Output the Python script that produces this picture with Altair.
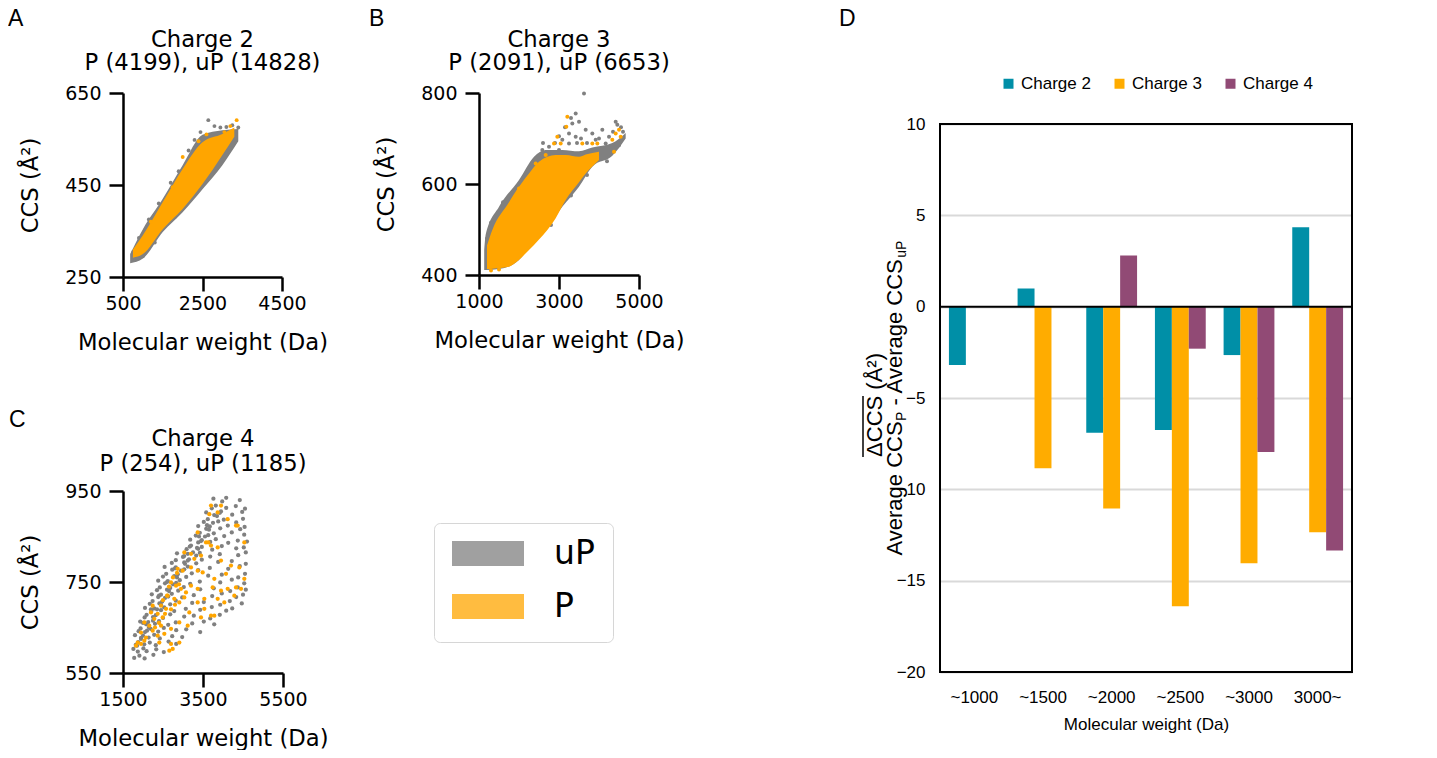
import altair as alt
import pandas as pd

FONT_A = "DejaVu Sans"
FONT_D = "Liberation Sans"
GRAY = "#808080"
ORANGE = "#FFA500"

# ---------------- Panel A : charge 2 ----------------
a_up_band_mw = [680, 1000, 1500, 2000, 2500, 3000, 3400]
a_up_band_lo = [280, 290, 348, 391, 441, 493, 545]
a_up_band_hi = [300, 354, 420, 493, 559, 569, 572]
a_p_band_mw = [750, 1000, 1500, 2000, 2500, 3000, 3300]
a_p_band_lo = [292, 300, 354, 398, 452, 515, 555]
a_p_band_hi = [310, 341, 413, 485, 543, 561, 575]
a_up_mw = [2646, 2800, 2950, 3100, 3250, 3400, 2450, 2300, 2150, 1900, 1700, 1400, 1150, 900, 760,
           2700, 2900, 3150, 3300, 2200, 1800, 1300, 1000]
a_up_ccs = [591, 578, 575, 576, 580, 575, 565, 548, 525, 480, 455, 410, 375, 335, 305,
            480, 500, 525, 548, 425, 380, 325, 295]
a_p_mw = [3360, 3200, 2002, 2600, 3050, 1750, 1200, 2400]
a_p_ccs = [591, 578, 511, 560, 565, 445, 370, 545]

# ---------------- Panel B : charge 3 ----------------
b_up_band_mw = [1130, 1170, 1500, 2000, 2375, 2667, 3083, 3500, 3833, 4333, 4667]
b_up_band_lo = [411, 411, 413, 433, 475, 500, 550, 594, 638, 662, 700]
b_up_band_hi = [455, 490, 550, 609, 660, 675, 675, 672, 680, 690, 712]
b_p_band_mw = [1200, 1333, 1750, 1833, 2250, 2500, 2917, 3167, 3500, 3667, 4000]
b_p_band_lo = [413, 414, 418, 422, 455, 478, 525, 565, 604, 623, 653]
b_p_band_hi = [465, 499, 560, 572, 623, 649, 664, 664, 660, 665, 671]
b_up_mw = [3625, 3417, 3500, 3333, 3250, 3083, 3250, 3417, 3667, 3833, 4083, 3917, 4167, 4417, 4458,
           4250, 4125, 3958, 3750, 2583, 2750, 3000, 3167, 3550, 3300, 3150, 3000, 2900, 4550, 4600,
           4350, 4000, 3700, 3450, 2600, 1200, 1300, 1600, 2100, 2300, 2200, 2800, 3300, 3700, 4200,
           4500]
b_up_ccs = [799, 755, 737, 733, 711, 697, 689, 704, 719, 711, 719, 697, 689, 737, 730,
            704, 675, 660, 671, 675, 682, 675, 660, 700, 745, 725, 705, 690, 725, 715,
            715, 700, 690, 690, 690, 480, 515, 560, 600, 630, 460, 510, 575, 620, 650,
            685]
b_p_mw = [3208, 3183, 2958, 2875, 3042, 3583, 3833, 3958, 4417, 4500, 4542, 4333, 4375, 2417, 2667,
          2792, 3417, 1300, 1500, 2000]
b_p_ccs = [748, 726, 704, 689, 689, 689, 689, 689, 711, 719, 704, 697, 671, 645, 664,
           653, 653, 410, 412, 590]

# ---------------- Panel C : charge 4 ----------------
c_up_mw = [1780, 1910, 2040, 2260,
           1760, 1870, 2010, 2090, 2330, 2520,
           1820, 1880, 2030, 2170, 2320, 2640, 2830,
           1800, 1950, 2000, 2140, 2280, 2420, 2730, 2980,
           1890, 1940, 2100, 2190, 2380, 2520, 2830, 3080, 3430,
           1930, 2080, 2130, 2300, 2400, 2630, 2820, 3230, 3520, 3780,
           2040, 2090, 2250, 2320, 2500, 2680, 3030, 3270, 3680, 3920,
           2050, 2210, 2280, 2450, 2530, 2780, 3070, 3430, 3720, 4080, 4230,
           2170, 2240, 2410, 2480, 2680, 2820, 3230, 3520, 3930, 4170, 4470,
           2220, 2380, 2450, 2630, 2720, 2980, 3270, 3730, 3970, 4330, 4500,
           2350, 2420, 2600, 2680, 2880, 3020, 3430, 3770, 4180, 4370, 4570,
           2380, 2550, 2620, 2830, 2920, 3180, 3420, 3930, 4220, 4530,
           2500, 2580, 2780, 2870, 3080, 3220, 3630, 3970, 4380, 4550,
           2540, 2730, 2820, 3030, 3120, 3380, 3670, 4130, 4420,
           2720, 2820, 3030, 3120, 3330, 3470, 3880, 4220, 4570,
           2850, 3030, 3120, 3330, 3420, 3680, 3920, 4380, 4570,
           3090, 3170, 3380, 3470, 3730, 3970, 4330, 4520,
           3180, 3380, 3470, 3680, 3820, 4130, 4370, 4600,
           3320, 3420, 3630, 3770, 4030, 4220, 4530,
           3380, 3580, 3670, 3930, 4120, 4430, 4540,
           3520, 3620, 3880, 4020, 4330, 4500,
           3580, 3780, 3920, 4230, 4480,
           3720, 3820, 4080, 4320, 4550,
           3760, 3980, 4080, 4420,
           1850, 1950, 2050, 2150, 2250, 2350, 2450, 2550, 2650, 2750, 2850, 2950, 3050, 3150, 3250,
           3350, 3450, 3550, 3650, 3750, 3850, 3950, 2000, 2200, 2400, 2600, 2800, 3000, 3200, 3400,
           3600]
c_up_ccs = [583, 588, 582, 590,
            603, 597, 604, 598, 602, 596,
            612, 618, 613, 617, 611, 619, 614,
            633, 627, 632, 628, 634, 626, 631, 629,
            642, 648, 643, 647, 641, 649, 644, 646, 640,
            663, 657, 662, 658, 664, 656, 661, 659, 663, 657,
            672, 678, 673, 677, 671, 679, 674, 676, 670, 678,
            693, 687, 692, 688, 694, 686, 691, 689, 695, 687, 692,
            702, 708, 703, 707, 701, 709, 704, 706, 700, 708, 703,
            723, 717, 722, 718, 724, 716, 721, 719, 725, 717, 722,
            732, 738, 733, 737, 731, 739, 734, 736, 730, 738, 733,
            753, 747, 752, 748, 754, 746, 751, 749, 755, 747,
            762, 768, 763, 767, 761, 769, 764, 766, 760, 768,
            783, 777, 782, 778, 784, 776, 781, 779, 785,
            792, 798, 793, 797, 791, 799, 794, 796, 790,
            813, 807, 812, 808, 814, 806, 811, 809, 815,
            822, 828, 823, 827, 821, 829, 824, 826,
            843, 837, 842, 838, 844, 836, 841, 839,
            852, 858, 853, 857, 851, 859, 854,
            873, 867, 872, 868, 874, 866, 871,
            882, 888, 883, 887, 881, 889,
            903, 897, 902, 898, 904,
            912, 918, 913, 917, 911,
            933, 927, 935, 930,
            610, 625, 640, 650, 665, 690, 700, 715, 730, 745, 760, 775, 790, 800, 815,
            825, 840, 850, 865, 880, 895, 905, 660, 690, 720, 750, 780, 805, 830, 850,
            875]
c_p_mw = [3700, 3950, 3867, 3658, 4117, 4325, 4367, 3367, 3575, 3633, 3700, 3867, 4533, 3033, 3200,
          3283, 3450, 3950, 4200, 4408, 2867, 2992, 3200, 3367, 3492, 3783, 4075, 4533, 2700, 2825,
          2950, 3075, 3200, 3367, 3533, 3742, 3950, 4117, 4325, 4450, 4283, 2617, 2783, 2908, 3033,
          3367, 3533, 3867, 4033, 2450, 2575, 2367, 2492, 2283, 3158, 3450, 3700, 3783, 2033, 2158,
          2242, 2367, 2533, 2700, 2908, 1950, 2075, 1867, 1950, 1825, 2033, 2408, 2700, 2908, 2742,
          2658, 2450, 2200, 2242, 3117, 2600, 2650, 2750, 2800, 2500, 2550, 2400, 2300, 2850, 2900,
          2700]
c_p_ccs = [918, 918, 903, 899, 888, 874, 874, 859, 837, 837, 830, 826, 837, 815, 812,
           801, 808, 797, 786, 782, 779, 775, 782, 775, 771, 757, 768, 757, 749, 742,
           735, 727, 742, 735, 713, 738, 731, 735, 738, 735, 720, 720, 713, 705, 716,
           705, 691, 713, 705, 698, 691, 680, 672, 669, 683, 672, 676, 676, 661, 654,
           643, 632, 636, 647, 661, 639, 628, 617, 614, 610, 621, 617, 614, 617, 603,
           599, 654, 683, 698, 654, 720, 740, 760, 700, 710, 680, 660, 650, 770, 745,
           690]

# ---------------- Panel D ----------------
d_categories = ["~1000", "~1500", "~2000", "~2500", "~3000", "3000~"]
d_charges = ["Charge 2", "Charge 3", "Charge 4"]
d_colors = ["#008FA7", "#FFAC00", "#914A75"]
d_charge2 = [-3.2, 1.0, -6.9, -6.75, -2.65, 4.35]
d_charge3 = [None, -8.85, -11.05, -16.4, -14.05, -12.35]
d_charge4 = [None, None, 2.8, -2.3, -7.95, -13.35]

AXC = dict(domainColor="black", domainWidth=2.5, tickColor="black", tickWidth=2.5, tickSize=14,
           labelFont=FONT_A, labelFontSize=19, labelColor="black", format="d",
           titleFont=FONT_A, titleFontSize=22.7, titleFontWeight="normal", titleColor="black",
           grid=False, labelFlush=False, labelOverlap=False)

ONE = pd.DataFrame({"k": [0]})


def band(mw, lo, hi):
    return pd.DataFrame({"mw": mw, "lo": lo, "hi": hi})


def pts(mw, ccs, g):
    return pd.DataFrame({"mw": mw, "ccs": ccs, "group": [g] * len(mw)})


def label(text, x, y, font, size, align="left", baseline="top"):
    return alt.Chart(ONE).mark_text(text=text, font=font, fontSize=size, align=align,
                                    baseline=baseline, color="black").encode(
        x=alt.value(x), y=alt.value(y))


def scatter_panel(title_lines, title_y, letter, lxy, xdom, xticks, ydom, yticks, w, h,
                  up_band, p_band, up_pts, p_pts, legend, size):
    xs = alt.Scale(domain=xdom, nice=False, zero=False)
    ys = alt.Scale(domain=ydom, nice=False, zero=False)
    xax = alt.Axis(values=xticks, title="Molecular weight (Da)", labelPadding=3, titlePadding=18, **AXC)
    yax = alt.Axis(values=yticks, title="CCS (Å²)", labelPadding=8, titlePadding=22, **AXC)
    X = alt.X("mw:Q", scale=xs, axis=xax)
    col = alt.Color("group:N", scale=alt.Scale(domain=["uP", "P"], range=[GRAY, ORANGE]),
                    legend=legend)
    layers = []
    if up_band is not None:
        layers.append(alt.Chart(up_band).mark_area(color=GRAY, interpolate="monotone").encode(
            x=X, y=alt.Y("lo:Q", scale=ys, axis=yax), y2="hi:Q"))
    layers.append(alt.Chart(up_pts).mark_circle(size=size, opacity=1).encode(
        x=X, y=alt.Y("ccs:Q", scale=ys, axis=yax), color=col))
    if p_band is not None:
        layers.append(alt.Chart(p_band).mark_area(color=ORANGE, interpolate="monotone").encode(
            x=X, y=alt.Y("lo:Q", scale=ys, axis=yax), y2="hi:Q"))
    layers.append(alt.Chart(p_pts).mark_circle(size=size, opacity=1).encode(
        x=X, y=alt.Y("ccs:Q", scale=ys, axis=yax), color=col))
    layers.append(label(letter, lxy[0], lxy[1], FONT_D, 23))
    layers.append(label(title_lines[0], w / 2, title_y[0], FONT_A, 22.7, "center", "middle"))
    layers.append(label(title_lines[1], w / 2, title_y[1], FONT_A, 22.7, "center", "middle"))
    return alt.layer(*layers).properties(width=w, height=h)


chart_a = scatter_panel(["Charge 2", "P (4199), uP (14828)"], (-53, -30), "A", (-115, -85),
                        [500, 4500], [500, 2500, 4500], [250, 650], [250, 450, 650], 159, 184,
                        band(a_up_band_mw, a_up_band_lo, a_up_band_hi),
                        band(a_p_band_mw, a_p_band_lo, a_p_band_hi),
                        pts(a_up_mw, a_up_ccs, "uP"), pts(a_p_mw, a_p_ccs, "P"), None, 15)

legend_b = alt.Legend(orient="none", legendX=-45, legendY=430, title=None,
                      symbolType="M-1,-0.35H1V0.35H-1Z", symbolSize=5184, symbolOpacity=0.75,
                      symbolStrokeWidth=0, labelFont=FONT_A, labelFontSize=33, labelColor="black",
                      labelOffset=30, padding=18, strokeColor="#D6D6D6", cornerRadius=6,
                      clipHeight=25, rowPadding=19, direction="vertical")

chart_b = scatter_panel(["Charge 3", "P (2091), uP (6653)"], (-53, -30), "B", (-110, -85),
                        [1000, 5000], [1000, 3000, 5000], [400, 800], [400, 600, 800], 160, 182,
                        band(b_up_band_mw, b_up_band_lo, b_up_band_hi),
                        band(b_p_band_mw, b_p_band_lo, b_p_band_hi),
                        pts(b_up_mw, b_up_ccs, "uP"), pts(b_p_mw, b_p_ccs, "P"), legend_b, 16)

chart_c = scatter_panel(["Charge 4", "P (254), uP (1185)"], (-52, -27), "C", (-114, -82),
                        [1500, 5500], [1500, 3500, 5500], [550, 950], [550, 750, 950], 160, 182,
                        None, None,
                        pts(c_up_mw, c_up_ccs, "uP"), pts(c_p_mw, c_p_ccs, "P"), None, 18)

# ---------------- Panel D chart ----------------
rows = []
for i, cat in enumerate(d_categories):
    for name, arr in zip(d_charges, [d_charge2, d_charge3, d_charge4]):
        if arr[i] is not None:
            rows.append({"cat": cat, "charge": name, "val": arr[i]})
df_d = pd.DataFrame(rows)

DW = 412
TOP = 31          # plot frame starts this far below the panel origin
DH = 548
ys_d = alt.Scale(domain=[-20, 10], nice=False, zero=False, range=[TOP + DH, TOP])

bars = alt.Chart(df_d).mark_bar().encode(
    x=alt.X("cat:N", sort=d_categories,
            scale=alt.Scale(domain=d_categories, paddingInner=0.26, paddingOuter=0.13),
            axis=alt.Axis(title="Molecular weight (Da)", labelAngle=0, ticks=False, domain=False,
                          labelFont=FONT_D, labelFontSize=17, labelColor="black", labelPadding=17,
                          titleFont=FONT_D, titleFontSize=17, titleFontWeight="normal",
                          titleColor="black", titlePadding=11)),
    xOffset=alt.XOffset("charge:N", scale=alt.Scale(domain=d_charges, paddingInner=0, paddingOuter=0)),
    y=alt.Y("val:Q", scale=ys_d,
            axis=alt.Axis(values=[10, 5, 0, -5, -10, -15, -20], title=None, ticks=False, domain=False,
                          grid=True, gridColor="#D9D9D9", gridWidth=2, labelFont=FONT_D,
                          labelFontSize=17, labelColor="black", labelPadding=15)),
    color=alt.Color("charge:N", scale=alt.Scale(domain=d_charges, range=d_colors),
                    legend=alt.Legend(orient="none", legendX=60, legendY=-18, direction="horizontal",
                                      title=None, symbolType="square", symbolSize=100,
                                      symbolStrokeWidth=0, labelFont=FONT_D, labelFontSize=17,
                                      labelColor="black", columnPadding=20, labelOffset=4, padding=0)),
)

zero = alt.Chart(pd.DataFrame({"z": [0]})).mark_rule(color="black", strokeWidth=2).encode(
    y=alt.Y("z:Q", scale=ys_d))
frame = alt.Chart(ONE).mark_rect(filled=False, stroke="black", strokeWidth=2).encode(
    x=alt.value(0), x2=alt.value(DW), y=alt.value(TOP), y2=alt.value(TOP + DH))


def ann(text, x, y, size, align="left"):
    return alt.Chart(ONE).mark_text(text=text, font=FONT_D, fontSize=size, align=align,
                                    baseline="alphabetic", angle=270, color="black").encode(
        x=alt.value(x), y=alt.value(y))


ytitle = [
    ann("ΔCCS (Å²)", -58, 312, 22, "center"),
    ann("Average CCS", -38, 462.5, 22),
    ann("P", -34, 328, 14),
    ann("- Average CCS", -38, 312.6, 22),
    ann("uP", -34, 164.7, 14),
]
overline = alt.Chart(ONE).mark_rule(color="black", strokeWidth=1.5).encode(
    x=alt.value(-77), y=alt.value(303), y2=alt.value(364))
letter_d = label("D", -101, -85, FONT_D, 23)

chart_d = alt.layer(bars, zero, frame, overline, letter_d, *ytitle).properties(
    width=DW, height=TOP + DH)

col1 = alt.vconcat(chart_a, chart_c, spacing=55).resolve_scale(color="independent")
inner = alt.hconcat(col1, chart_b, spacing=40).resolve_scale(color="independent")
chart = alt.concat(inner, chart_d, columns=2, spacing=154).properties(
    align="none", padding=0).resolve_scale(color="independent").configure_view(stroke=None)

chart.save("out.html", embed_options={"renderer": "svg", "actions": False})
